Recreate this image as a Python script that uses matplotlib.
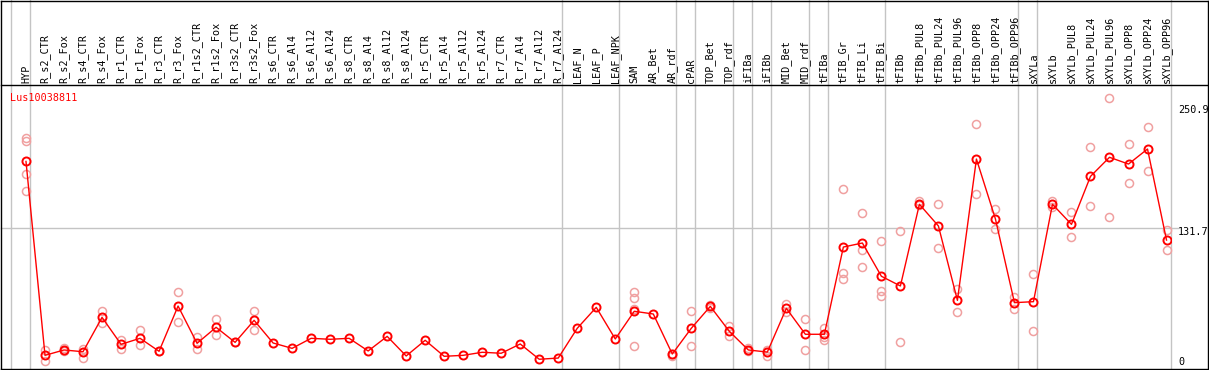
import matplotlib
matplotlib.use("Agg")
from matplotlib import pyplot as plt
from matplotlib.lines import Line2D
import matplotlib.transforms as mtransforms

gene = "Lus10038811"

samples = [
    "HYP", "R_s2_CTR", "R_s2_Fox", "R_s4_CTR", "R_s4_Fox", "R_r1_CTR", "R_r1_Fox",
    "R_r3_CTR", "R_r3_Fox", "R_r1s2_CTR", "R_r1s2_Fox", "R_r3s2_CTR", "R_r3s2_Fox",
    "R_s6_CTR", "R_s6_Al4", "R_s6_Al12", "R_s6_Al24", "R_s8_CTR", "R_s8_Al4",
    "R_s8_Al12", "R_s8_Al24", "R_r5_CTR", "R_r5_Al4", "R_r5_Al12", "R_r5_Al24",
    "R_r7_CTR", "R_r7_Al4", "R_r7_Al12", "R_r7_Al24", "LEAF_N", "LEAF_P", "LEAF_NPK",
    "SAM", "AR_Bet", "AR_rdf", "cPAR", "TOP_Bet", "TOP_rdf", "iFIBa", "iFIBb",
    "MID_Bet", "MID_rdf", "tFIBa", "tFIB_Gr", "tFIB_Li", "tFIB_Bi", "tFIBb",
    "tFIBb_PUL8", "tFIBb_PUL24", "tFIBb_PUL96", "tFIBb_OPP8", "tFIBb_OPP24",
    "tFIBb_OPP96", "sXYLa", "sXYLb", "sXYLb_PUL8", "sXYLb_PUL24", "sXYLb_PUL96",
    "sXYLb_OPP8", "sXYLb_OPP24", "sXYLb_OPP96",
]

means = [
    193.0, 15.2, 20.1, 18.5, 50.0, 25.3, 30.8, 18.9, 60.4, 26.2, 40.9, 27.1, 47.3,
    26.5, 21.6, 30.8, 29.9, 30.8, 19.2, 32.6, 14.6, 29.0, 14.3, 15.2, 18.0,
    17.1, 25.6, 11.6, 12.7, 40.0, 59.2, 30.2,
    55.6, 53.1, 16.4, 40.0, 60.1, 37.2, 20.1, 18.2,
    58.3, 34.5, 34.5, 114.5, 118.2, 87.7, 78.8,
    153.7, 133.8, 65.6, 195.2, 140.2, 63.5,
    64.4, 153.7, 135.3, 179.3, 196.8, 190.6, 204.4, 120.9,
]

replicates = [
    [214.7, 211.7, 181.5, 165.9], [20.1, 10.3], [21.6, 19.2], [21.0, 12.5],
    [55.6, 45.1], [29.2, 21.0], [38.1, 24.4], [18.9], [73.5, 46.0], [32.0, 21.0],
    [48.2, 33.6], [27.1], [55.6, 38.1],
    [], [], [], [], [], [], [], [], [], [], [], [], [], [], [], [],
    [], [], [],
    [73.0, 67.5, 57.4, 23.5], [], [16.7, 15.0], [55.6, 23.5], [61.3, 59.0],
    [42.4, 32.6], [21.6, 19.0], [20.1, 14.6],
    [62.3, 55.2], [48.2, 19.8], [40.0, 31.7, 29.5],
    [167.7, 90.4, 85.5], [145.4, 111.5, 95.9], [119.7, 74.5, 69.6], [129.2, 27.1],
    [156.4, 152.8], [154.0, 113.6], [76.0, 54.6], [227.3, 163.1], [149.4, 131.0],
    [69.0, 57.4],
    [89.8, 37.5], [157.0, 150.9], [146.3, 123.7], [205.9, 152.1], [250.9, 142.0],
    [209.0, 173.2], [224.6, 183.9], [130.4, 111.5],
]

# index of the last sample in each group (-1 = line before the first one)
group_ends = [-1, 0, 28, 31, 34, 35, 37, 38, 39, 41, 42, 45, 52, 53, 60]

tick_values = [0, 131.7, 250.9]
tick_texts = ["0", "131.7", "250.9"]
tick_dy = [10, -4, -12]

W, H = 1209, 370
mono = "DejaVu Sans Mono"
grid_col = "#c4c4c4"
fs = 7.3

fig = plt.figure(figsize=(W / 100, H / 100), dpi=100)
ax = fig.add_axes([1 / W, 1 / H, 1169.7 / W, 284 / H])
top = fig.add_axes([1 / W, 285 / H, 1169.7 / W, 85 / H], sharex=ax)

for a in (ax, top):
    for s in a.spines.values():
        s.set_visible(False)
    a.set_xticks([])
    a.set_yticks([])
    a.patch.set_alpha(0)
    for e in group_ends:
        a.axvline(e + 0.21, color=grid_col, lw=1, zorder=0, clip_on=False)

ax.set_xlim(-1.315, 60.22)
ax.set_ylim(2.66, 263.1)
top.set_ylim(0, 1)

# horizontal grid line at the middle tick
blend = mtransforms.blended_transform_factory(ax.transAxes, ax.transData)
ax.plot([0, 1.0065], [tick_values[1]] * 2, color=grid_col, lw=1,
        transform=blend, clip_on=False, zorder=0)

# replicates
for i, reps in enumerate(replicates):
    ax.plot([i] * len(reps), reps, "o", ms=5.8, mfc="none", mec="#f0a0a0",
            mew=1.1, zorder=2, clip_on=False)

# mean profile
x = list(range(len(samples)))
ax.plot(x, means, "-", color="red", lw=1, zorder=3)
ax.plot(x, means, "o", ms=5.8, mfc="none", mec="red", mew=1.4, zorder=4)

# sample labels
tb = mtransforms.blended_transform_factory(top.transData, top.transAxes)
for i, s in enumerate(samples):
    top.text(i, 0.025, s, rotation=90, ha="center", va="bottom", fontsize=fs,
             family=mono, transform=tb)

# value labels on the right
for v, t, dy in zip(tick_values, tick_texts, tick_dy):
    ax.annotate(t, xy=(1, v), xycoords=blend, xytext=(7.3, dy),
                textcoords="offset pixels", ha="left", va="center",
                fontsize=fs, family=mono, annotation_clip=False)

fig.text(10 / W, 1 - 97.7 / H, gene, color="red", fontsize=fs, family=mono,
         ha="left", va="center")


def px_line(x0, y0, x1, y1):
    fig.add_artist(Line2D([x0 / W, x1 / W], [1 - y0 / H, 1 - y1 / H],
                          transform=fig.transFigure, color="black", lw=1.0))


px_line(0.8, 0.8, 1208.0, 0.8)
px_line(0.8, 0.8, 0.8, 368.8)
px_line(1208.0, 0.8, 1208.0, 368.8)
px_line(0.8, 368.8, 1208.0, 368.8)
px_line(0.8, 84.8, 1208.0, 84.8)

fig.savefig("out.png", dpi=100)
